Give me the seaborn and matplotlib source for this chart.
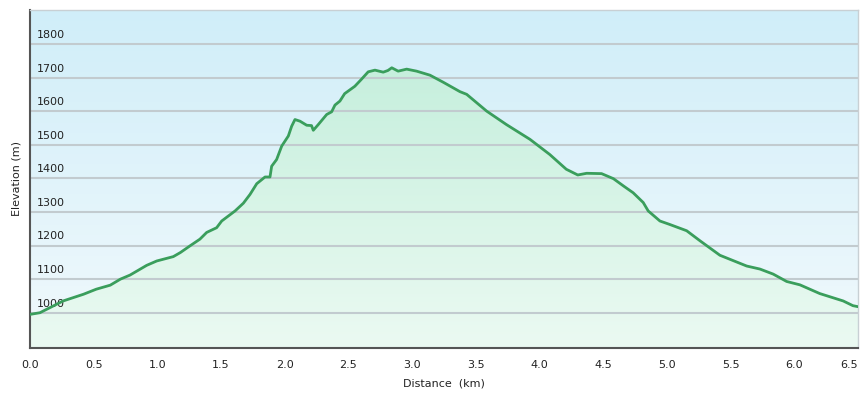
import numpy as np
import pandas as pd
import matplotlib
matplotlib.use("Agg")
import matplotlib.pyplot as plt
import seaborn as sns
from matplotlib.colors import LinearSegmentedColormap

distance_km = [0.0, 0.078, 0.26, 0.42, 0.52, 0.63, 0.71, 0.785, 0.916, 0.995, 1.125, 1.18,
               1.256, 1.334, 1.387, 1.465, 1.505, 1.61, 1.675, 1.727, 1.78, 1.845, 1.884,
               1.897, 1.936, 1.976, 2.028, 2.054, 2.08, 2.12, 2.172, 2.21, 2.224, 2.263,
               2.329, 2.368, 2.394, 2.433, 2.47, 2.55, 2.60, 2.655, 2.708, 2.773, 2.81,
               2.84, 2.89, 2.957, 3.035, 3.14, 3.244, 3.375, 3.428, 3.585, 3.74, 3.925,
               4.08, 4.21, 4.30, 4.37, 4.487, 4.58, 4.66, 4.735, 4.814, 4.853, 4.945,
               5.02, 5.155, 5.26, 5.416, 5.626, 5.73, 5.834, 5.94, 6.044, 6.20, 6.384,
               6.46, 6.5]
elevation_m = [995, 1000, 1035, 1055, 1070, 1082, 1100, 1112, 1141, 1154, 1167, 1179,
               1199, 1219, 1239, 1253, 1273, 1303, 1326, 1352, 1384, 1404, 1404,
               1436, 1456, 1496, 1526, 1555, 1575, 1570, 1558, 1557, 1543, 1560,
               1590, 1598, 1618, 1630, 1652, 1674, 1694, 1717, 1722, 1716, 1721,
               1729, 1719, 1725, 1719, 1707, 1686, 1658, 1650, 1600, 1560, 1516,
               1471, 1427, 1410, 1415, 1414, 1399, 1377, 1357, 1328, 1303, 1273,
               1263, 1244, 1214, 1171, 1139, 1130, 1115, 1093, 1083, 1057, 1035,
               1021, 1018]
x_ticks = [0.0, 0.5, 1.0, 1.5, 2.0, 2.5, 3.0, 3.5, 4.0, 4.5, 5.0, 5.5, 6.0, 6.5]
y_ticks = [1000, 1100, 1200, 1300, 1400, 1500, 1600, 1700, 1800]

df = pd.DataFrame({"Distance": distance_km, "Elevation": elevation_m})

sns.set_style("white")
plt.rcParams['font.family'] = ['DejaVu Sans']

fig = plt.figure(figsize=(8.62, 3.96), dpi=100)
ax = fig.add_axes([30/862, 48/396, 828/862, 338/396])
xmin, xmax = 0.0, 6.5
ymin, ymax = 895, 1901
ax.set_xlim(xmin, xmax)
ax.set_ylim(ymin, ymax)

# background gradient
bg = LinearSegmentedColormap.from_list("bg", ["#f1f9fc", "#d0eef9"])
grad = np.linspace(0, 1, 256).reshape(-1, 1)
ax.imshow(grad, extent=[xmin, xmax, ymin, ymax], origin="lower", aspect="auto",
          cmap=bg, zorder=0)

# fill gradient clipped to area under curve
poly = ax.fill_between(df["Distance"], df["Elevation"], ymin, color="none", lw=0)
fg = LinearSegmentedColormap.from_list("fg", ["#ebfaf2", "#c6efdd"])
im = ax.imshow(grad, extent=[xmin, xmax, ymin, 1730], origin="lower", aspect="auto",
               cmap=fg, zorder=1)
path = poly.get_paths()[0]
im.set_clip_path(path, transform=ax.transData)

for yt in y_ticks:
    ax.axhline(yt, color="#c2cbcf", lw=1.5, zorder=2)
    ax.text(0.055, yt + 12, str(yt), fontsize=8, color="#222222", zorder=3,
            va="bottom", ha="left")

sns.lineplot(data=df, x="Distance", y="Elevation", ax=ax, color="#3a9e5c", lw=2,
             zorder=4)

ax.set_yticks([])
ax.set_xticks(x_ticks)
ax.set_xticklabels([f"{t:.1f}" for t in x_ticks], fontsize=8, color="#222222")
ax.get_xticklabels()[-1].set_horizontalalignment("right")
ax.tick_params(axis="x", direction="out", length=5, width=1, color="#555555", pad=4)
ax.set_xlabel("Distance  (km)", fontsize=8, color="#222222", labelpad=6)
ax.set_ylabel("Elevation (m)", fontsize=8, color="#222222", labelpad=6)
for s in ["left", "bottom"]:
    ax.spines[s].set_color("#555555")
    ax.spines[s].set_linewidth(1.5)
for s in ["top", "right"]:
    ax.spines[s].set_color("#c8d0d4")
    ax.spines[s].set_linewidth(1)

fig.savefig("out.png", dpi=100, facecolor="white")
